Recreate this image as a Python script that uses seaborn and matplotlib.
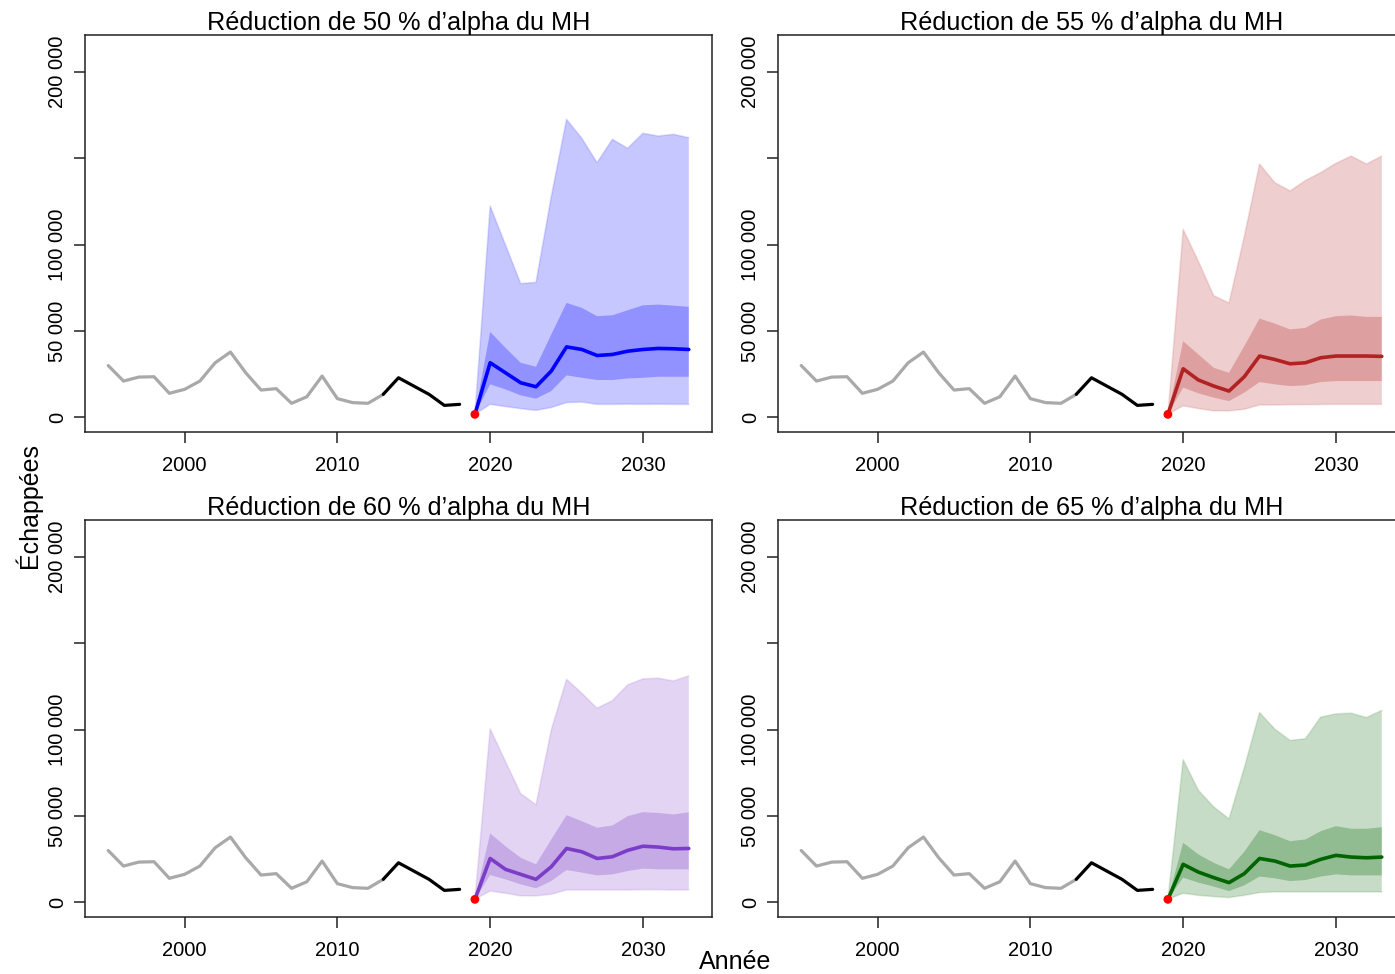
import numpy as np
import pandas as pd
import matplotlib
matplotlib.use("Agg")
import matplotlib.pyplot as plt
import seaborn as sns

# ---------------- data ----------------
years_hist = list(range(1995, 2019))
hist_values = [30.0, 21.0, 23.3, 23.5, 13.9, 16.2, 21.0, 31.6, 37.8, 25.8, 15.8, 16.6,
               8.1, 11.9, 23.9, 10.8, 8.5, 8.1, 13.3, 22.9, 18.1, 13.3, 6.9, 7.5]
recent_start = 2013

years_proj = list(range(2019, 2034))
start_value = 1.7

titles = ["Réduction de 50 % d’alpha du MH", "Réduction de 55 % d’alpha du MH",
          "Réduction de 60 % d’alpha du MH", "Réduction de 65 % d’alpha du MH"]

med50 = [1.7, 31.6, 25.8, 20.0, 17.7, 26.8, 40.8, 39.3, 35.8, 36.4, 38.3, 39.3, 39.9, 39.7, 39.3]
in_hi50 = [1.7, 49.5, 40.3, 31.6, 29.3, 48.0, 66.3, 63.4, 58.6, 59.1, 62.0, 64.9, 65.3, 64.7, 64.0]
in_lo50 = [1.7, 19.1, 16.2, 12.7, 10.8, 15.2, 24.3, 22.9, 21.6, 21.6, 22.5, 22.9, 23.5, 23.5, 23.5]
out_hi50 = [1.7, 122.5, 100.0, 77.5, 78.2, 128.0, 172.7, 161.7, 147.6, 161.1, 155.9, 164.6, 163.0, 164.0, 162.0]
out_lo50 = [1.7, 7.5, 6.2, 5.0, 4.0, 5.6, 8.5, 8.8, 7.5, 7.5, 7.6, 7.5, 7.6, 7.5, 7.5]

med55 = [1.7, 28.1, 21.6, 18.1, 15.2, 23.5, 35.5, 33.5, 31.0, 31.6, 34.5, 35.5, 35.5, 35.5, 35.3]
in_hi55 = [1.7, 44.1, 36.4, 28.7, 25.8, 41.2, 57.2, 54.3, 50.9, 51.8, 56.6, 58.6, 59.0, 58.2, 58.2]
in_lo55 = [1.7, 17.2, 13.9, 11.4, 9.4, 14.3, 20.4, 19.1, 18.1, 18.5, 20.4, 21.0, 21.0, 21.0, 21.0]
out_hi55 = [1.7, 109.0, 90.4, 70.5, 66.3, 104.8, 146.8, 136.0, 131.2, 137.2, 141.8, 147.2, 151.4, 146.8, 151.4]
out_lo55 = [1.7, 6.6, 5.0, 3.7, 3.7, 4.6, 7.1, 7.1, 7.3, 7.3, 7.4, 7.5, 7.5, 7.5, 7.5]

med60 = [1.7, 25.4, 19.1, 16.2, 13.3, 20.6, 31.2, 29.3, 25.4, 26.4, 30.1, 32.5, 32.0, 31.0, 31.2]
in_hi60 = [1.7, 39.9, 32.5, 25.8, 22.0, 36.4, 50.5, 47.0, 43.2, 44.5, 49.9, 52.2, 51.8, 50.9, 52.2]
in_lo60 = [1.7, 15.8, 13.3, 10.4, 8.1, 12.3, 18.7, 17.2, 15.6, 16.2, 18.1, 19.5, 19.1, 19.1, 19.1]
out_hi60 = [1.7, 100.6, 81.7, 63.0, 56.6, 100.0, 129.3, 121.2, 112.5, 116.9, 126.0, 129.5, 129.9, 128.3, 131.2]
out_lo60 = [1.7, 6.5, 5.2, 3.7, 3.7, 4.6, 7.1, 7.1, 7.1, 7.1, 7.1, 7.3, 7.3, 7.1, 7.1]

med65 = [1.7, 22.0, 17.5, 14.3, 11.4, 16.6, 25.4, 23.9, 21.0, 21.6, 24.9, 27.2, 26.2, 25.8, 26.2]
in_hi65 = [1.7, 34.5, 27.7, 22.9, 19.1, 29.3, 41.8, 38.9, 35.4, 36.4, 41.2, 44.1, 42.6, 42.6, 43.5]
in_lo65 = [1.7, 14.3, 11.4, 9.1, 6.5, 9.8, 14.9, 13.9, 12.3, 12.9, 14.9, 16.2, 15.6, 15.6, 15.6]
out_hi65 = [1.7, 82.7, 64.9, 55.3, 48.4, 78.0, 110.0, 100.4, 93.8, 94.8, 107.3, 109.2, 109.6, 107.1, 111.2]
out_lo65 = [1.7, 5.2, 4.0, 3.3, 2.7, 4.0, 5.6, 6.0, 6.0, 6.0, 6.0, 6.0, 6.0, 6.0, 6.0]

y_ticks = [0, 50000, 100000, 150000, 200000]
y_tick_labels = ["0", "50 000", "100 000", "", "200 000"]
x_ticks = [2000, 2010, 2020, 2030]
x_tick_labels = ["2000", "2010", "2020", "2030"]

# ---------------- style ----------------
sns.set_style("ticks")
plt.rcParams['font.family'] = ['Liberation Sans', 'DejaVu Sans']
plt.rcParams['text.color'] = 'black'
plt.rcParams['axes.labelcolor'] = 'black'
plt.rcParams['xtick.color'] = '#222222'
plt.rcParams['ytick.color'] = '#222222'

line_colors = ["#0000FF", "#B22222", "#7B3CC8", "#006400"]

panels = [
    (med50, in_lo50, in_hi50, out_lo50, out_hi50),
    (med55, in_lo55, in_hi55, out_lo55, out_hi55),
    (med60, in_lo60, in_hi60, out_lo60, out_hi60),
    (med65, in_lo65, in_hi65, out_lo65, out_hi65),
]

W, H = 1395, 974
fig = plt.figure(figsize=(W / 100, H / 100), dpi=100)

# axes boxes in pixels: (left, top, right, bottom)
boxes = [(85, 35, 712, 432), (778, 35, 1405, 432),
         (85, 520, 712, 917), (778, 520, 1405, 917)]

hist_df = pd.DataFrame({"year": years_hist, "value": np.array(hist_values) * 1000})
old_df = hist_df[hist_df.year <= recent_start]
new_df = hist_df[hist_df.year >= recent_start]

for i, (box, (med, ilo, ihi, olo, ohi)) in enumerate(zip(boxes, panels)):
    l, t, r, b = box
    ax = fig.add_axes([l / W, 1 - b / H, (r - l) / W, (b - t) / H])
    col = line_colors[i]
    yrs = np.array(years_proj)
    k = 1000.0
    ax.fill_between(yrs, np.array(olo) * k, np.array(ohi) * k, facecolor=col, alpha=0.22,
                    edgecolor="none", zorder=1)
    ax.plot(yrs, np.array(ohi) * k, color=col, alpha=0.12, lw=1.2, zorder=1)
    ax.plot(yrs, np.array(olo) * k, color=col, alpha=0.12, lw=1.2, zorder=1)
    ax.fill_between(yrs, np.array(ilo) * k, np.array(ihi) * k, facecolor=col, alpha=0.27,
                    edgecolor="none", zorder=2)

    sns.lineplot(data=old_df, x="year", y="value", color="#A9A9A9", lw=2.3, ax=ax, zorder=3)
    sns.lineplot(data=new_df, x="year", y="value", color="black", lw=2.3, ax=ax, zorder=3)
    proj_df = pd.DataFrame({"year": years_proj, "value": np.array(med) * k})
    sns.lineplot(data=proj_df, x="year", y="value", color=col, lw=2.6, ax=ax, zorder=4)
    pt_df = pd.DataFrame({"year": [years_proj[0]], "value": [start_value * k]})
    sns.scatterplot(data=pt_df, x="year", y="value", color="red", s=40, edgecolor="none",
                    ax=ax, zorder=5)

    ax.set_xlim(1993.48, 2034.52)
    ax.set_ylim(-8520, 221520)
    ax.set_xticks(x_ticks)
    ax.set_xticklabels(x_tick_labels)
    ax.set_yticks(y_ticks)
    ax.set_yticklabels(y_tick_labels)
    ax.set_xlabel("")
    ax.set_ylabel("")
    ax.tick_params(axis='both', length=8, width=1.1, color="#222222", labelsize=14.5,
                   labelcolor="black")
    ax.tick_params(axis='x', pad=9)
    ax.tick_params(axis='y', pad=5)
    for lab in ax.get_yticklabels():
        lab.set_rotation(90)
        lab.set_va("center")
        lab.set_ha("right")
    for sp in ax.spines.values():
        sp.set_visible(True)
        sp.set_color("#222222")
        sp.set_linewidth(1.1)
    ax.set_title(titles[i], fontsize=18.2, pad=2.5, color="black")

fig.text(28 / W, 1 - 505 / H, "Échappées", rotation=90, ha="center", va="center",
         fontsize=18, color="black")
fig.text(735 / W, 1 - 962 / H, "Année", ha="center", va="center", fontsize=18, color="black")

fig.savefig("out.png", dpi=100)
